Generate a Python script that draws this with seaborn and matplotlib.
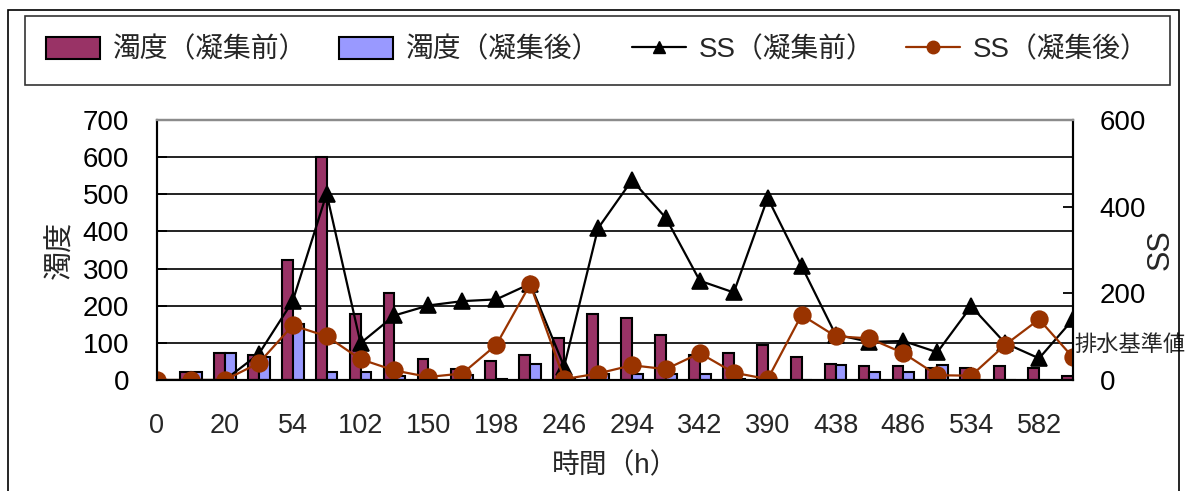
import numpy as np
import pandas as pd
import matplotlib
matplotlib.use("Agg")
import matplotlib.pyplot as plt
import matplotlib.transforms as mtransforms
from matplotlib.patches import Patch, Rectangle
from matplotlib.lines import Line2D
import seaborn as sns

# Elapsed time (h) for every sample; only every other value is printed on the axis
hours = [0, 10, 20, 30, 54, 78, 102, 126, 150, 174, 198, 222, 246, 270,
         294, 318, 342, 366, 390, 414, 438, 462, 486, 510, 534, 558, 582, 606]

# Turbidity before / after coagulation (left axis)
turb_before = [0, 22, 72, 68, 322, 600, 178, 234, 56, 29, 50, 66, 112, 178,
               166, 122, 66, 72, 94, 61, 44, 39, 39, 33, 33, 39, 33, 12]
turb_after = [0, 22, 72, 61, 151, 22, 22, 11, 1, 13, 3, 44, 3, 16,
              16, 16, 16, 2, 0, 0, 40, 22, 22, 40, 0, 0, 0, 0]

# Suspended solids before / after coagulation (right axis)
ss_before = [0, 0, 0, 60, 182, 430, 85, 149, 172, 182, 186, 222, 31, 350,
             461, 374, 229, 202, 420, 263, 105, 88, 90, 64, 170, 85, 50, 140]
ss_after = [0, 0, 0, 39, 126, 101, 48, 22, 7, 15, 81, 221, 2, 15,
            34, 25, 62, 17, 2, 150, 101, 96, 62, 11, 10, 81, 140, 52]

series_names = ["濁度（凝集前）", "濁度（凝集後）", "SS（凝集前）", "SS（凝集後）"]
y_left_label = "濁度"
y_right_label = "SS"
x_label = "時間（h）"
note_text = "排水基準値"
note_level = 80

PURPLE = "#993366"
BLUE = "#9999FF"
RUST = "#993300"

sns.set_style("white")
plt.rcParams["font.family"] = ["Liberation Sans", "Noto Sans CJK JP", "DejaVu Sans"]

cats = [str(h) for h in hours]
n = len(cats)
turb = pd.DataFrame({
    "time": cats * 2,
    "value": turb_before + turb_after,
    "series": [series_names[0]] * n + [series_names[1]] * n,
})

W, H = 1194, 491
fig = plt.figure(figsize=(W / 100, H / 100), dpi=100)
ax = fig.add_axes([157 / W, 1 - 380 / H, (1073 - 157) / W, 260 / H])

sns.barplot(data=turb, x="time", y="value", hue="series", order=cats,
            hue_order=series_names[:2], palette=[PURPLE, BLUE],
            width=0.64, edgecolor="black", linewidth=1.5, saturation=1,
            legend=False, ax=ax, zorder=2)

ax2 = ax.twinx()
sns.pointplot(x=cats, y=ss_before, order=cats, color="black", marker="^",
              markersize=11, linewidth=1.6, ax=ax2)
sns.pointplot(x=cats, y=ss_after, order=cats, color=RUST, marker="o",
              markersize=12, linewidth=1.6, ax=ax2)

ax.set_xlim(0, n - 1)
ax.set_ylim(0, 700)
ax2.set_ylim(0, 600)

ax.set_yticks(np.arange(0, 701, 100))
ax2.set_yticks(np.arange(0, 601, 200))
ax.set_xticks(range(n))
ax.set_xticklabels([c if i % 2 == 0 else "" for i, c in enumerate(cats)])

ax.yaxis.grid(True, color="#111111", linewidth=1.3)
ax.xaxis.grid(False)
ax.set_axisbelow(True)

ax.tick_params(axis="y", direction="in", length=7, width=1.3, pad=20,
               labelsize=20, colors="black")
ax.tick_params(axis="x", length=0, pad=24, labelsize=19.5)
ax2.tick_params(axis="y", direction="in", length=7, width=1.3, pad=19,
                labelsize=20, colors="black")

for a in (ax, ax2):
    for side in ("left", "right", "bottom"):
        a.spines[side].set_color("black")
        a.spines[side].set_linewidth(1.5)
        a.spines[side].set_visible(True)
    a.spines["top"].set_color("#8c8c8c")
    a.spines["top"].set_linewidth(1.6)
    a.spines["top"].set_visible(True)

ax.set_xlabel(x_label, fontsize=20, labelpad=10)
ax.set_ylabel(y_left_label, fontsize=21, labelpad=6)
ax2.set_ylabel(y_right_label, fontsize=22, labelpad=0)

trans = mtransforms.blended_transform_factory(ax2.transAxes, ax2.transData)
ax2.text(1.002, note_level, note_text, transform=trans, ha="left",
         va="center", fontsize=16, clip_on=False)

handles = [
    Patch(facecolor=PURPLE, edgecolor="black", linewidth=1.5),
    Patch(facecolor=BLUE, edgecolor="black", linewidth=1.5),
    Line2D([], [], color="black", marker="^", markersize=9, linewidth=1.6),
    Line2D([], [], color=RUST, marker="o", markersize=9, linewidth=1.6),
]
leg = fig.legend(handles, series_names, loc="upper left",
                 bbox_to_anchor=(25 / W, 1 - 16 / H),
                 bbox_transform=fig.transFigure, ncol=4, frameon=True,
                 fancybox=False, edgecolor="black", borderaxespad=0,
                 borderpad=0.76, handlelength=1.95, handleheight=0.8,
                 handletextpad=0.45, columnspacing=1.15, fontsize=20)
leg.get_frame().set_linewidth(1.2)

# outer chart border
fig.add_artist(Rectangle((8 / W, -0.05), (1179 - 8) / W, 1.05 - 10 / H,
                         transform=fig.transFigure, fill=False,
                         edgecolor="black", linewidth=1.2, clip_on=False))

fig.savefig("out.png", dpi=100)
